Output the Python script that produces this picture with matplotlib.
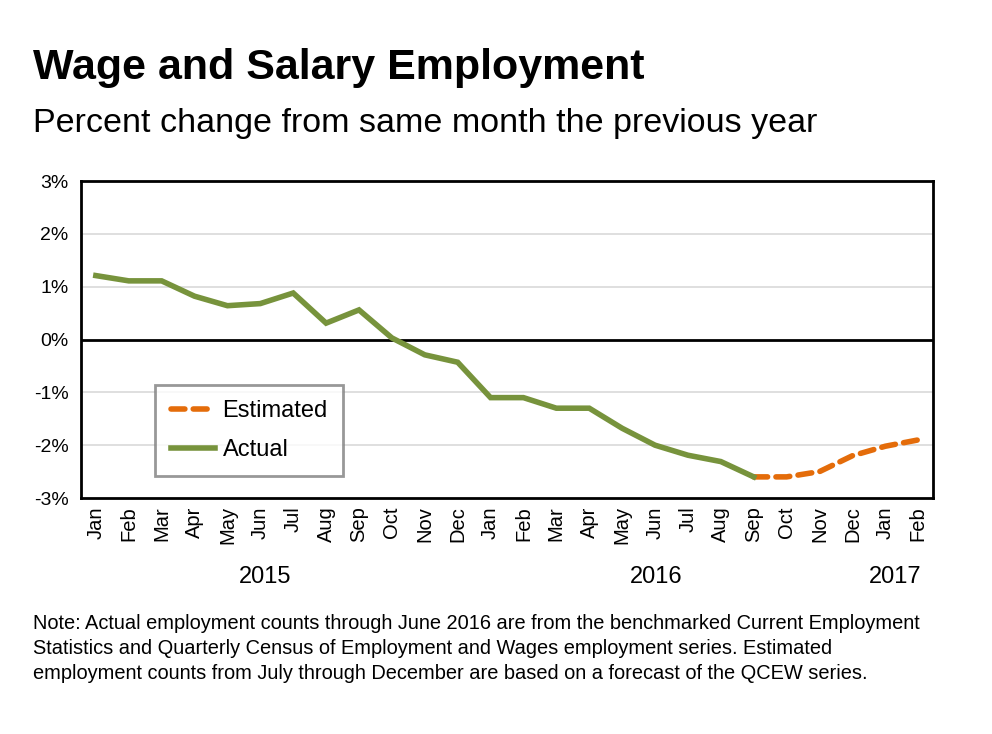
import matplotlib
matplotlib.use("Agg")
import matplotlib.pyplot as plt

months = ["Jan", "Feb", "Mar", "Apr", "May", "Jun", "Jul", "Aug", "Sep", "Oct", "Nov", "Dec",
          "Jan", "Feb", "Mar", "Apr", "May", "Jun", "Jul", "Aug", "Sep", "Oct", "Nov", "Dec",
          "Jan", "Feb"]
actual = [1.21, 1.11, 1.11, 0.82, 0.64, 0.68, 0.88, 0.31, 0.56, 0.03, -0.29, -0.43,
          -1.10, -1.10, -1.30, -1.30, -1.68, -2.00, -2.19, -2.31, -2.60]
estimated = [-2.60, -2.60, -2.50, -2.20, -2.02, -1.90]   # Sep 2016 .. Feb 2017
est_start = 20
years = ["2015", "2016", "2017"]
year_pos = [5.15, 17.05, 24.3]
yticks = [3, 2, 1, 0, -1, -2, -3]

plt.rcParams['font.family'] = ['Liberation Sans', 'DejaVu Sans']

fig = plt.figure(figsize=(9.92, 7.34), dpi=100)
ax = fig.add_axes([0.0817, 0.3215, 0.8588, 0.4319])

green = "#77933C"
orange = "#E46C0A"

x_act = list(range(len(actual)))
x_est = list(range(est_start, est_start + len(estimated)))

ax.plot(x_est, estimated, color=orange, lw=4, ls=(0, (2.5, 1.5)), label="Estimated",
        dash_capstyle='round', zorder=3)
ax.plot(x_act, actual, color=green, lw=4, label="Actual", solid_joinstyle='miter', zorder=4)

ax.set_ylim(-3, 3)
ax.set_xlim(-0.45, len(months) - 1 + 0.45)
ax.set_yticks(yticks)
ax.set_yticklabels([f"{v}%" for v in yticks], fontsize=14)
ax.set_xticks(range(len(months)))
ax.set_xticklabels(months, rotation=90, fontsize=14.5)
ax.tick_params(axis='x', length=0, pad=6)
ax.tick_params(axis='y', length=0, pad=9)

for v in yticks:
    if v == 0:
        ax.axhline(0, color="black", lw=2, zorder=2)
    elif v not in (3, -3):
        ax.axhline(v, color="#D9D9D9", lw=1.2, zorder=1)

for s in ax.spines.values():
    s.set_linewidth(2)
    s.set_color("black")

for yr, xp in zip(years, year_pos):
    ax.text(xp, -0.25, yr, transform=ax.get_xaxis_transform(), ha='center', va='center',
            fontsize=17)

leg = ax.legend(loc='lower left', bbox_to_anchor=(0.087, 0.069), borderaxespad=0,
                fontsize=17, frameon=True, fancybox=False, handlelength=1.9,
                handletextpad=0.3, borderpad=0.65, labelspacing=0.7)
leg.get_frame().set_edgecolor("#7F7F7F")
leg.get_frame().set_linewidth(2)

fig.text(0.033, 0.908, "Wage and Salary Employment", fontsize=31, fontweight='bold',
         ha='left', va='center')
fig.text(0.033, 0.832, "Percent change from same month the previous year", fontsize=24.5,
         ha='left', va='center')

note = ("Note: Actual employment counts through June 2016 are from the benchmarked Current Employment\n"
        "Statistics and Quarterly Census of Employment and Wages employment series. Estimated\n"
        "employment counts from July through December are based on a forecast of the QCEW series.")
fig.text(0.033, 0.117, note, fontsize=14.4, ha='left', va='center', linespacing=1.4)

fig.savefig("out.png", dpi=100)
